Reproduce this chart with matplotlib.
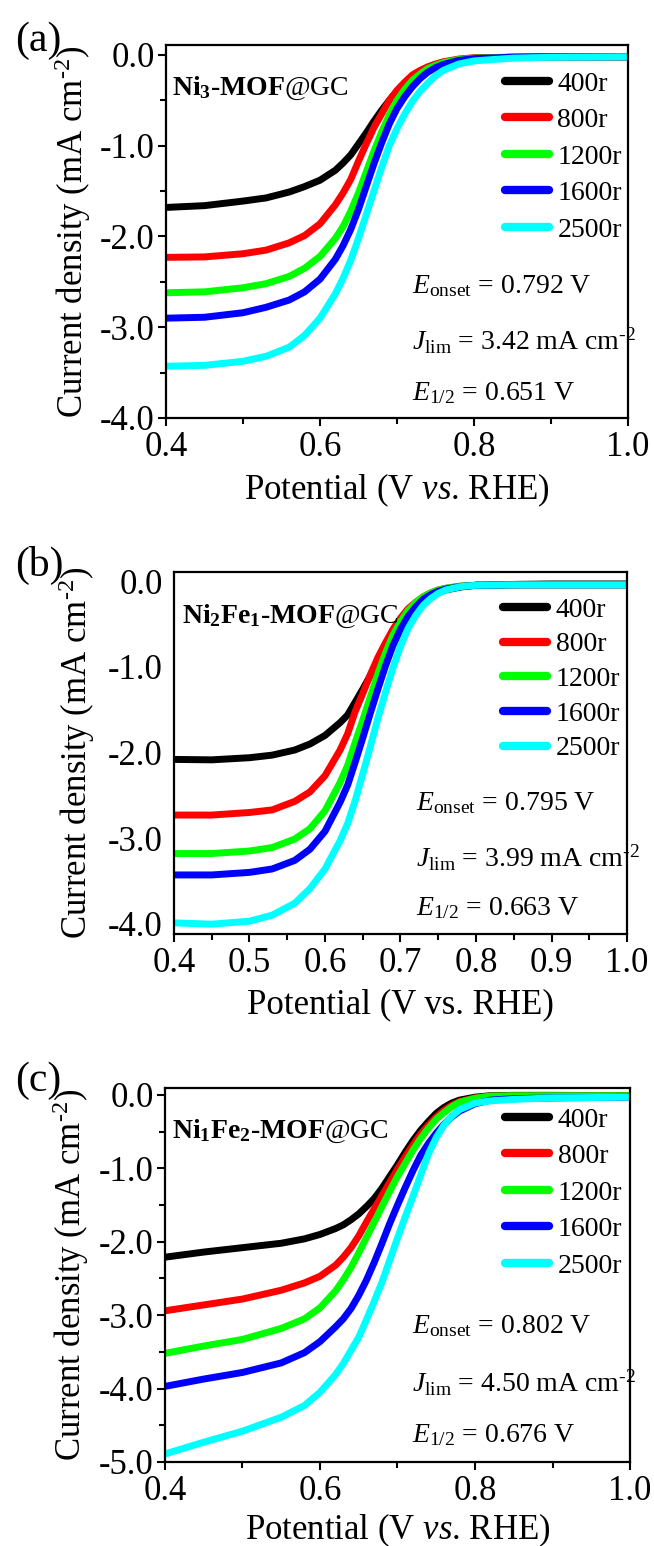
import matplotlib
matplotlib.use("Agg")
import matplotlib.pyplot as plt
from matplotlib.ticker import MultipleLocator, FormatStrFormatter, NullLocator

plt.rcParams["font.family"] = ["Liberation Serif", "DejaVu Serif"]
plt.rcParams["mathtext.fontset"] = "custom"
plt.rcParams["mathtext.rm"] = "Liberation Serif"
plt.rcParams["mathtext.it"] = "Liberation Serif:italic"
plt.rcParams["mathtext.bf"] = "Liberation Serif:bold"
plt.rcParams["axes.unicode_minus"] = False

# ---------------- data ----------------
speeds = ["400r", "800r", "1200r", "1600r", "2500r"]
colors = ["#000000", "#ff0000", "#00ff00", "#0000ff", "#00ffff"]

# (a) Ni3-MOF@GC
pot_a = [0.40, 0.45, 0.50, 0.53, 0.56, 0.58, 0.60, 0.62, 0.63, 0.64, 0.65, 0.66, 0.67, 0.68,
         0.69, 0.70, 0.71, 0.72, 0.73, 0.74, 0.75, 0.76, 0.78, 0.80, 0.85, 0.90, 1.00]
a_400 = [-1.68, -1.66, -1.61, -1.575, -1.51, -1.45, -1.38, -1.27, -1.19, -1.10, -0.98, -0.86, -0.73, -0.61,
         -0.50, -0.40, -0.31, -0.24, -0.185, -0.14, -0.11, -0.085, -0.055, -0.035, -0.025, -0.02, -0.02]
a_800 = [-2.23, -2.225, -2.19, -2.15, -2.07, -1.99, -1.86, -1.65, -1.52, -1.37, -1.17, -0.98, -0.80, -0.65,
         -0.50, -0.39, -0.30, -0.22, -0.17, -0.13, -0.10, -0.075, -0.045, -0.03, -0.025, -0.02, -0.02]
a_1200 = [-2.62, -2.61, -2.565, -2.52, -2.44, -2.35, -2.22, -2.02, -1.89, -1.72, -1.52, -1.29, -1.06, -0.85,
          -0.66, -0.50, -0.38, -0.28, -0.21, -0.15, -0.115, -0.085, -0.05, -0.035, -0.025, -0.02, -0.02]
a_1600 = [-2.90, -2.89, -2.84, -2.78, -2.70, -2.61, -2.47, -2.25, -2.10, -1.92, -1.70, -1.45, -1.20, -0.97,
          -0.76, -0.59, -0.46, -0.35, -0.26, -0.19, -0.14, -0.105, -0.06, -0.04, -0.025, -0.02, -0.02]
a_2500 = [-3.43, -3.42, -3.375, -3.32, -3.22, -3.09, -2.90, -2.63, -2.46, -2.26, -2.02, -1.76, -1.50, -1.24,
          -1.00, -0.81, -0.65, -0.51, -0.40, -0.31, -0.23, -0.17, -0.10, -0.065, -0.035, -0.025, -0.02]

# (b) Ni2Fe1-MOF@GC
pot_b = [0.40, 0.45, 0.50, 0.53, 0.56, 0.58, 0.60, 0.62, 0.63, 0.64, 0.65, 0.66, 0.67, 0.68,
         0.69, 0.70, 0.71, 0.72, 0.73, 0.74, 0.75, 0.76, 0.78, 0.80, 0.85, 0.90, 1.00]
b_400 = [-2.08, -2.085, -2.06, -2.03, -1.97, -1.90, -1.80, -1.65, -1.56, -1.41, -1.26, -1.10, -0.95, -0.81,
         -0.67, -0.54, -0.42, -0.32, -0.23, -0.17, -0.13, -0.10, -0.065, -0.045, -0.035, -0.03, -0.03]
b_800 = [-2.73, -2.73, -2.70, -2.67, -2.57, -2.46, -2.27, -1.97, -1.78, -1.52, -1.31, -1.09, -0.89, -0.72,
         -0.56, -0.43, -0.32, -0.245, -0.18, -0.135, -0.10, -0.08, -0.055, -0.045, -0.04, -0.04, -0.04]
b_1200 = [-3.18, -3.18, -3.15, -3.11, -3.01, -2.89, -2.68, -2.35, -2.15, -1.88, -1.62, -1.35, -1.08, -0.84,
          -0.63, -0.47, -0.34, -0.25, -0.18, -0.135, -0.10, -0.08, -0.055, -0.045, -0.04, -0.04, -0.04]
b_1600 = [-3.43, -3.43, -3.40, -3.36, -3.26, -3.13, -2.92, -2.58, -2.38, -2.11, -1.83, -1.54, -1.26, -0.99,
          -0.75, -0.56, -0.41, -0.30, -0.21, -0.155, -0.115, -0.09, -0.06, -0.045, -0.04, -0.04, -0.04]
b_2500 = [-3.99, -4.005, -3.97, -3.90, -3.76, -3.59, -3.36, -3.03, -2.83, -2.56, -2.25, -1.93, -1.60, -1.30,
          -1.01, -0.76, -0.55, -0.40, -0.28, -0.20, -0.14, -0.10, -0.06, -0.045, -0.04, -0.04, -0.04]

# (c) Ni1Fe2-MOF@GC
pot_c = [0.40, 0.45, 0.50, 0.55, 0.58, 0.60, 0.62, 0.63, 0.64, 0.65, 0.66, 0.67, 0.68, 0.69,
         0.70, 0.71, 0.72, 0.73, 0.74, 0.75, 0.76, 0.77, 0.78, 0.80, 0.82, 0.85, 0.90, 1.00]
c_400 = [-2.21, -2.14, -2.08, -2.02, -1.96, -1.90, -1.82, -1.77, -1.70, -1.62, -1.52, -1.41, -1.27, -1.11,
         -0.95, -0.78, -0.62, -0.48, -0.36, -0.25, -0.17, -0.11, -0.07, -0.03, -0.01, -0.005, -0.005, -0.01]
c_800 = [-2.94, -2.86, -2.78, -2.66, -2.56, -2.47, -2.32, -2.21, -2.08, -1.92, -1.73, -1.55, -1.37, -1.19,
         -1.01, -0.84, -0.68, -0.53, -0.41, -0.30, -0.21, -0.14, -0.09, -0.04, -0.015, -0.01, -0.01, -0.01]
c_1200 = [-3.52, -3.42, -3.33, -3.18, -3.05, -2.90, -2.67, -2.52, -2.35, -2.15, -1.94, -1.73, -1.52, -1.31,
          -1.11, -0.93, -0.75, -0.59, -0.45, -0.33, -0.24, -0.16, -0.10, -0.045, -0.015, -0.01, -0.01, -0.01]
c_1600 = [-3.97, -3.87, -3.78, -3.65, -3.51, -3.36, -3.16, -3.05, -2.91, -2.73, -2.52, -2.28, -2.02, -1.75,
          -1.50, -1.26, -1.03, -0.82, -0.66, -0.52, -0.40, -0.30, -0.22, -0.12, -0.07, -0.05, -0.04, -0.03]
c_2500 = [-4.89, -4.73, -4.58, -4.39, -4.23, -4.05, -3.81, -3.66, -3.48, -3.30, -3.06, -2.81, -2.55, -2.25,
          -1.95, -1.66, -1.38, -1.09, -0.80, -0.58, -0.41, -0.29, -0.20, -0.11, -0.08, -0.06, -0.04, -0.03]

panel_tags = ["(a)", "(b)", "(c)"]
sample_names = [r"Ni$_{\mathbf{3}}$-MOF$\mathrm{@GC}$",
                r"Ni$_{\mathbf{2}}$Fe$_{\mathbf{1}}$-MOF$\mathrm{@GC}$",
                r"Ni$_{\mathbf{1}}$Fe$_{\mathbf{2}}$-MOF$\mathrm{@GC}$"]
e_onset = ["0.792", "0.795", "0.802"]
j_lim = ["3.42", "3.99", "4.50"]
e_half = ["0.651", "0.663", "0.676"]
xlabels = [r"Potential (V $\mathit{vs}$. RHE)", "Potential (V vs. RHE)",
           r"Potential (V $\mathit{vs}$. RHE)"]
ylabel_text = r"Current density (mA cm$^{\text{-}2}$)"
jlim_unit = r" mA cm$^{\text{-}2}$"

# ---------------- figure ----------------
W, H = 654, 1546
fig = plt.figure(figsize=(W / 100, H / 100), dpi=100)


def px_axes(left, top, right, bottom):
    return fig.add_axes([left / W, 1 - bottom / H, (right - left) / W, (bottom - top) / H])


axes = [px_axes(166, 45, 628, 418), px_axes(174, 572, 627, 934), px_axes(165, 1088, 630, 1462)]
ylims = [(-4.0, 0.11), (-4.12, 0.11), (-5.0, 0.095)]
series = [
    (pot_a, [a_400, a_800, a_1200, a_1600, a_2500]),
    (pot_b, [b_400, b_800, b_1200, b_1600, b_2500]),
    (pot_c, [c_400, c_800, c_1200, c_1600, c_2500]),
]
tag_y = [41, 565, 1081]
ylabel_x = [-0.158, -0.170, -0.159]
xlabel_pad = [6, 6, 3]
legend_anchor = [(0.987, 0.930), (0.985, 0.930), (0.983, 0.949)]
legend_spacing = [0.40, 0.33, 0.40]
text_x = [0.532, 0.534, 0.531]
text_y = [(0.335, 0.182, 0.048), (0.343, 0.186, 0.052), (0.345, 0.187, 0.053)]
name_pos = [(0.012, 0.866), (0.018, 0.859), (0.016, 0.866)]

FS = 25

for i, ax in enumerate(axes):
    pot, curves = series[i]
    handles = []
    for y, col, lab in zip(curves, colors, speeds):
        (ln,) = ax.plot(pot, y, color=col, lw=5, label=lab, solid_joinstyle="round")
        handles.append(ln)

    ax.set_xlim(0.4, 1.0)
    ax.set_ylim(*ylims[i])
    for sp in ax.spines.values():
        sp.set_linewidth(1.6)

    if i == 1:
        ax.xaxis.set_major_locator(MultipleLocator(0.1))
        ax.xaxis.set_minor_locator(MultipleLocator(0.05))
    else:
        ax.xaxis.set_major_locator(MultipleLocator(0.2))
        ax.xaxis.set_minor_locator(MultipleLocator(0.1))
    ax.yaxis.set_major_locator(MultipleLocator(1.0))
    ax.xaxis.set_major_formatter(FormatStrFormatter("%.1f"))
    ax.yaxis.set_major_formatter(FormatStrFormatter("%.1f"))

    ax.tick_params(axis="x", which="major", direction="out", length=6, width=1.5,
                   labelsize=FS, pad=3)
    ax.tick_params(axis="x", which="minor", direction="out", length=4, width=1.5)
    if i == 1:
        ax.yaxis.set_minor_locator(NullLocator())
        ax.tick_params(axis="y", which="major", length=0, labelsize=FS, pad=8)
    else:
        ax.yaxis.set_minor_locator(MultipleLocator(0.5))
        ax.tick_params(axis="y", which="major", direction="out", length=6, width=1.5,
                       labelsize=FS, pad=2)
        ax.tick_params(axis="y", which="minor", direction="out", length=4, width=1.5)

    ax.set_xlabel(xlabels[i], fontsize=FS, labelpad=xlabel_pad[i])
    ax.set_ylabel(ylabel_text, fontsize=FS)
    ax.yaxis.set_label_coords(ylabel_x[i], 0.5)

    leg = ax.legend(handles=handles, loc="upper right", bbox_to_anchor=legend_anchor[i],
                    frameon=False, fontsize=20, handlelength=1.6, handletextpad=0.3,
                    labelspacing=legend_spacing[i], borderpad=0, borderaxespad=0)
    for lh in leg.get_lines():
        lh.set_linewidth(6)
        lh.set_solid_capstyle("round")

    ax.text(name_pos[i][0], name_pos[i][1], sample_names[i], transform=ax.transAxes,
            fontsize=20, fontweight="bold", ha="left", va="baseline")

    tx = text_x[i]
    ty = text_y[i]
    ax.text(tx, ty[0], r"$E_{\mathrm{onset}}$ = " + e_onset[i] + " V", transform=ax.transAxes,
            fontsize=20, ha="left", va="baseline")
    ax.text(tx, ty[1], r"$J_{\mathrm{lim}}$ = " + j_lim[i] + jlim_unit, transform=ax.transAxes,
            fontsize=20, ha="left", va="baseline")
    ax.text(tx, ty[2], r"$E_{1/2}$ = " + e_half[i] + " V", transform=ax.transAxes,
            fontsize=20, ha="left", va="baseline")

    fig.text(15 / W, 1 - tag_y[i] / H, panel_tags[i], fontsize=30, ha="left", va="center")

fig.savefig("out.png", dpi=100)
